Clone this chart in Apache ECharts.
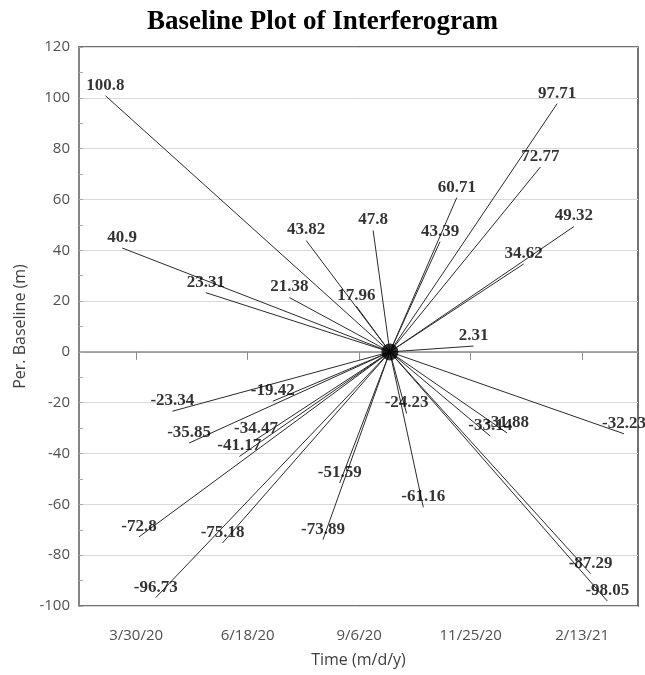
<!DOCTYPE html>
<html>
<head>
<meta charset="utf-8">
<script src="https://cdn.jsdelivr.net/npm/echarts@6/dist/echarts.min.js"></script>
<style>html,body{margin:0;padding:0;background:#fff}#c{width:645px;height:675px}</style>
</head>
<body>
<div id="c"></div>
<script>
// ---- data ----
const masterDate = '2020-09-28';
const slaveDates = [
  '2020-03-08','2020-03-20','2020-04-01','2020-04-13','2020-04-25','2020-05-07',
  '2020-05-19','2020-05-31','2020-06-12','2020-06-24','2020-07-06','2020-07-18',
  '2020-07-30','2020-08-11','2020-08-23','2020-09-04','2020-09-16',
  '2020-10-10','2020-10-22','2020-11-03','2020-11-15','2020-11-27','2020-12-09',
  '2020-12-21','2021-01-02','2021-01-14','2021-01-26','2021-02-07','2021-02-19',
  '2021-03-03','2021-03-15'
];
const baselines = [
  100.8, 40.9, -72.8, -96.73, -23.34, -35.85,
  23.31, -75.18, -41.17, -34.47, -19.42, 21.38,
  43.82, -73.89, -51.59, 17.96, 47.8,
  -24.23, -61.16, 43.39, 60.71, 2.31, -33.14,
  -31.88, 34.62, 72.77, 97.71, 49.32, -87.29,
  -98.05, -32.23
];
const xTickDates = ['2020-03-30','2020-06-18','2020-09-06','2020-11-25','2021-02-13'];
const xMinDate = '2020-02-18';
const xMaxDate = '2021-03-25';
const yTicks = {min: -100, max: 120, interval: 20};

// ---- helpers ----
const DAY = 86400000;
function dayNum(s){ const p = s.split('-').map(Number); return Date.UTC(p[0], p[1]-1, p[2]) / DAY; }
function fmtDay(d){ const t = new Date(d * DAY); return (t.getUTCMonth()+1) + '/' + t.getUTCDate() + '/' + String(t.getUTCFullYear()).slice(2); }

const m = dayNum(masterDate);
const lineSeries = slaveDates.map((d, i) => ({
  type: 'line',
  data: [[m, 0], [dayNum(d), baselines[i]]],
  symbol: 'none',
  lineStyle: {color: '#2a2a2a', width: 1},
  silent: true,
  z: 2
}));

const labelFont = {fontFamily: '"Liberation Serif", "DejaVu Serif", serif', fontWeight: 'bold', fontSize: 17, color: '#000'};

const option = {
  animation: false,
  title: {
    text: 'Baseline Plot of Interferogram',
    left: 'center', top: 4,
    textStyle: {fontFamily: '"Liberation Serif", serif', fontWeight: 'bold', fontSize: 27, color: '#000'}
  },
  grid: {left: 79, right: 7, top: 47, bottom: 69, show: true, borderColor: '#444', borderWidth: 1.5, containLabel: false},
  xAxis: {
    type: 'value',
    min: dayNum(xMinDate), max: dayNum(xMaxDate),
    name: 'Time (m/d/y)', nameLocation: 'middle', nameGap: 46,
    nameTextStyle: {fontFamily: '"Open Sans", sans-serif', fontSize: 16, color: '#404040'},
    axisLine: {show: true, lineStyle: {color: '#8c8c8c', width: 1.5}},
    axisTick: {show: true, length: 8, lineStyle: {color: '#8c8c8c'}, customValues: xTickDates.map(dayNum)},
    axisLabel: {customValues: xTickDates.map(dayNum), formatter: v => fmtDay(v), margin: 22,
      fontFamily: '"Open Sans", sans-serif', fontSize: 15, color: '#505050'},
    splitLine: {show: false}
  },
  yAxis: {
    type: 'value', min: yTicks.min, max: yTicks.max, interval: yTicks.interval,
    name: 'Per. Baseline (m)', nameLocation: 'middle', nameGap: 48,
    nameTextStyle: {fontFamily: '"Open Sans", sans-serif', fontSize: 16, color: '#404040'},
    axisLine: {show: true, lineStyle: {color: '#8c8c8c', width: 1.5}},
    axisTick: {show: true, inside: true, length: 4, lineStyle: {color: '#aaa'}},
    minorTick: {show: true, splitNumber: 2, length: 4, lineStyle: {color: '#aaa'}},
    axisLabel: {fontFamily: '"Open Sans", sans-serif', fontSize: 15, color: '#505050', margin: 9},
    splitLine: {show: true, lineStyle: {color: '#d9d9d9', width: 1}}
  },
  series: lineSeries.concat([
    {
      type: 'scatter',
      data: slaveDates.map((d, i) => [dayNum(d), baselines[i]]),
      symbolSize: 0,
      silent: true,
      label: {show: true, position: 'top', distance: 2, formatter: p => String(p.value[1]), ...labelFont},
      z: 5
    },
    {
      type: 'scatter',
      data: [[m, 0]],
      symbol: 'circle', symbolSize: 17,
      itemStyle: {color: '#000'},
      silent: true,
      z: 6
    }
  ])
};
echarts.init(document.getElementById('c'), null, {renderer: 'canvas'}).setOption(option);
</script>
</body>
</html>
